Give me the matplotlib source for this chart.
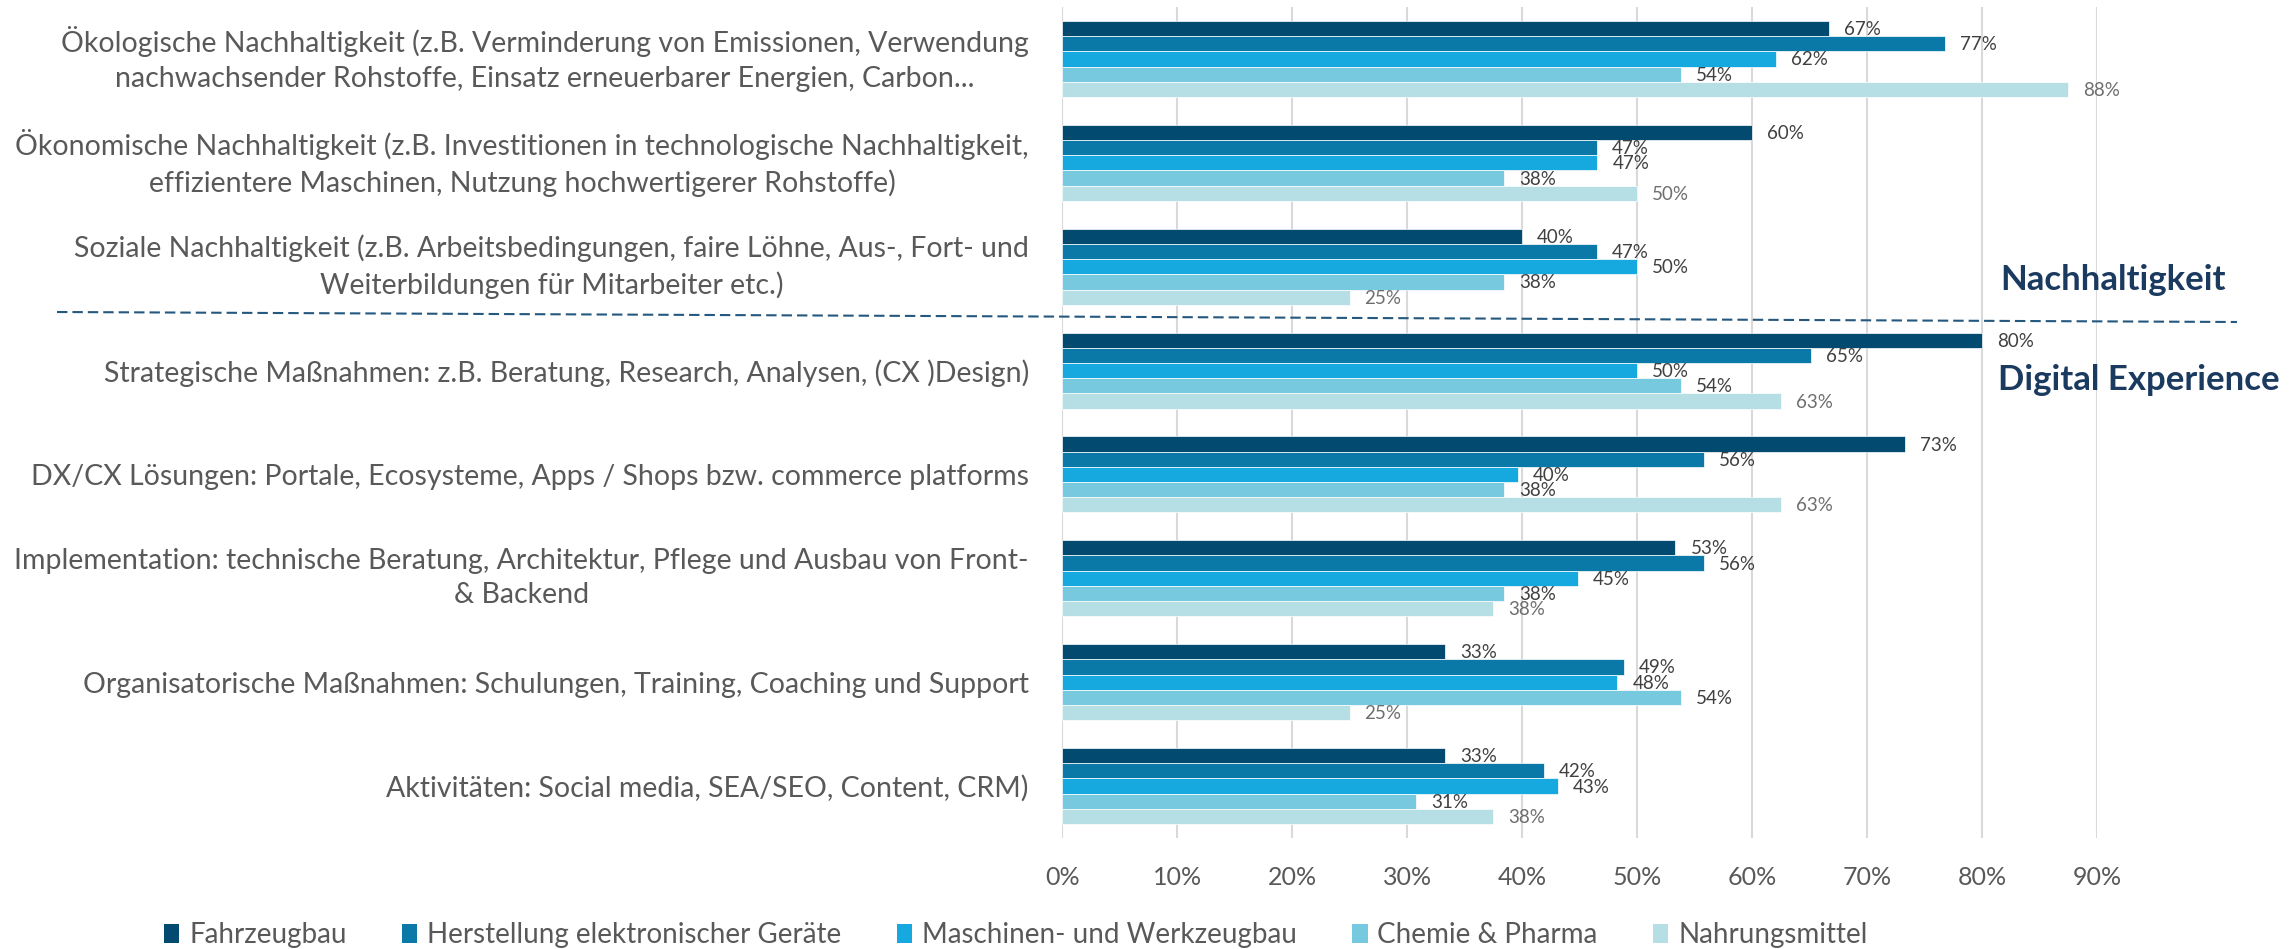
import numpy as np
import matplotlib.pyplot as plt
from matplotlib.patches import Patch
from matplotlib.lines import Line2D

plt.rcParams['font.family'] = ['Lato', 'DejaVu Sans']

categories = [
    "Ökologische Nachhaltigkeit (z.B. Verminderung von Emissionen, Verwendung\nnachwachsender Rohstoffe, Einsatz erneuerbarer Energien, Carbon...",
    "Ökonomische Nachhaltigkeit (z.B. Investitionen in technologische Nachhaltigkeit,\neffizientere Maschinen, Nutzung hochwertigerer Rohstoffe)",
    "Soziale Nachhaltigkeit (z.B. Arbeitsbedingungen, faire Löhne, Aus-, Fort- und\nWeiterbildungen für Mitarbeiter etc.)",
    "Strategische Maßnahmen: z.B. Beratung, Research, Analysen, (CX )Design)",
    "DX/CX Lösungen: Portale, Ecosysteme, Apps / Shops bzw. commerce platforms",
    "Implementation: technische Beratung, Architektur, Pflege und Ausbau von Front-\n& Backend",
    "Organisatorische Maßnahmen: Schulungen, Training, Coaching und Support",
    "Aktivitäten: Social media, SEA/SEO, Content, CRM)",
]

series = ["Fahrzeugbau", "Herstellung elektronischer Geräte", "Maschinen- und Werkzeugbau",
          "Chemie & Pharma", "Nahrungsmittel"]

# Werte in %
fahrzeugbau = [66.67, 60.0, 40.0, 80.0, 73.33, 53.33, 33.33, 33.33]
elektronik = [76.74, 46.51, 46.51, 65.12, 55.81, 55.81, 48.84, 41.86]
maschinen = [62.07, 46.55, 50.0, 50.0, 39.66, 44.83, 48.28, 43.10]
chemie = [53.85, 38.46, 38.46, 53.85, 38.46, 38.46, 53.85, 30.77]
nahrung = [87.5, 50.0, 25.0, 62.5, 62.5, 37.5, 25.0, 37.5]

values = [fahrzeugbau, elektronik, maschinen, chemie, nahrung]
colors = ['#034A71', '#0A79A7', '#16A9E0', '#77C9DF', '#B5DFE5']
label_colors = ['#404040', '#404040', '#404040', '#404040', '#6E6E6E']

fig = plt.figure(figsize=(22.91, 9.49), dpi=100)
ax = fig.add_axes([0.4636, 0.1170, 0.4518, 0.8756])

y = np.arange(len(categories))
h = 0.1464

for j, (vals, c) in enumerate(zip(values, colors)):
    pos = y + (j - 2) * h
    ax.barh(pos, vals, height=h, color=c, edgecolor='white', linewidth=0.5, zorder=3)
    for p, v in zip(pos, vals):
        ax.text(v + 1.3, p + 0.01, "%d%%" % int(v + 0.5), va='center', ha='left',
                fontsize=13.5, color=label_colors[j], zorder=4)

ax.set_xlim(0, 90)
ax.set_ylim(len(categories) - 0.5, -0.5)
ax.set_xticks(np.arange(0, 91, 10))
ax.set_xticklabels(["%d%%" % t for t in range(0, 91, 10)])
ax.set_yticks(y)
ax.set_yticklabels(categories)
for lbl in ax.get_yticklabels():
    lbl.set_multialignment('center')
    lbl.set_linespacing(1.4)
    if '\n' in lbl.get_text():
        lbl.set_verticalalignment('center')

ax.tick_params(axis='x', length=0, pad=20, labelsize=18, labelcolor='#595959')
ax.tick_params(axis='y', length=0, pad=24, labelsize=20.5, labelcolor='#595959')
ax.grid(axis='x', color='#D9D9D9', linewidth=1.5, zorder=0)
for s in ax.spines.values():
    s.set_visible(False)

# Trennlinie und Bereichstitel
fig.add_artist(Line2D([57 / 2291, 2237 / 2291], [1 - 312 / 949, 1 - 322 / 949],
                      transform=fig.transFigure, color='#25587F', linewidth=1.5,
                      dashes=(5, 2.4)))
fig.text(2000 / 2291, 1 - 280 / 949, "Nachhaltigkeit", fontsize=25, fontweight='bold',
         color='#1B3A5F', va='center', ha='left')
fig.text(1998 / 2291, 1 - 380 / 949, "Digital Experience", fontsize=25, fontweight='bold',
         color='#1B3A5F', va='center', ha='left')

handles = [Patch(facecolor=c, edgecolor='none') for c in colors]
fig.legend(handles, series, loc='center left', bbox_to_anchor=(164 / 2291, 1 - 935 / 949),
           ncol=5, frameon=False, fontsize=20, labelcolor='#595959',
           handlelength=0.55, handleheight=0.7, handletextpad=0.35, columnspacing=2.0,
           borderpad=0, borderaxespad=0)

fig.savefig("out.png", dpi=100)
